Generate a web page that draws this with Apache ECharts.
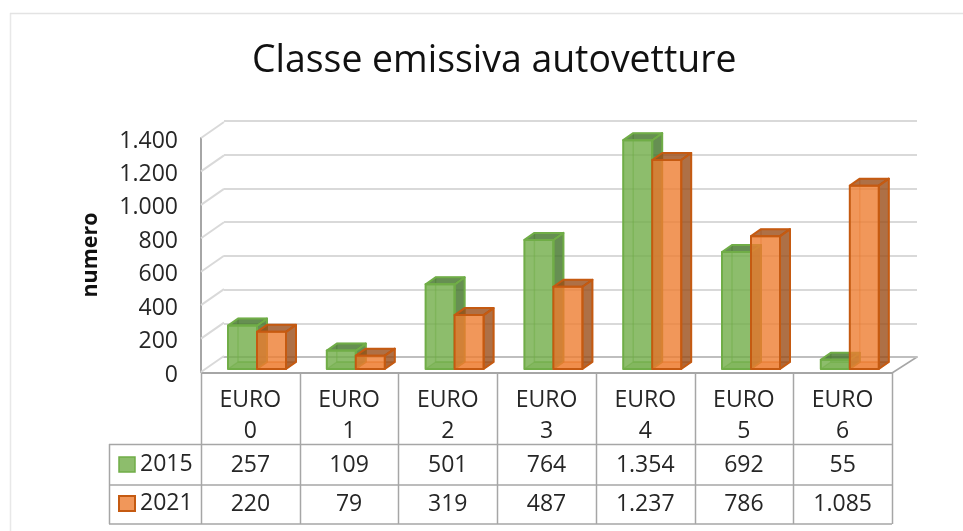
<!DOCTYPE html>
<html>
<head>
<meta charset="utf-8">
<style>
  html, body { margin: 0; padding: 0; background: #fff; }
  #chart { width: 963px; height: 531px; }
</style>
<script src="https://cdn.jsdelivr.net/npm/echarts@6/dist/echarts.min.js"></script>
</head>
<body>
<div id="chart"></div>
<script>
const categories = ['EURO\n0', 'EURO\n1', 'EURO\n2', 'EURO\n3', 'EURO\n4', 'EURO\n5', 'EURO\n6'];
const values2015 = [257, 109, 501, 764, 1354, 692, 55];
const values2021 = [220, 79, 319, 487, 1237, 786, 1085];
const yTicks = [0, 200, 400, 600, 800, 1000, 1200, 1400];

const FONT = '"Open Sans", sans-serif';
const TEXT = '#262626';
const TABLE_LINE = '#a6a6a6';
const GRID_LINE = '#d9d9d9';

// dot as thousands separator, as in the original
const formatNum = (v) => String(v).replace(/\B(?=(\d{3})+$)/g, '.');

const green = {
    front: 'rgba(112,173,71,0.8)', side: 'rgba(64,115,39,0.8)', floor: 'rgba(112,173,71,0.35)',
    edge: '#70ad47', inner: 'rgba(112,173,71,0.5)'
};
const orange = {
    front: 'rgba(237,125,49,0.8)', side: 'rgba(154,76,24,0.8)', floor: 'rgba(237,125,49,0.35)',
    edge: '#c55a11', inner: 'rgba(197,90,17,0.35)'
};

const BAR_W = 29;
const BAR_DX = 10;
const BAR_DY = -7;

// 3D bar: the front rectangle comes from the axes, the rest is a fixed depth offset
const renderBar = (palette, side) => (params, api) => {
    const base = api.coord([api.value(0), 0]);
    const top = api.coord([api.value(0), api.value(1)]);
    const x0 = base[0] + (side < 0 ? -BAR_W : 0);
    const x1 = x0 + BAR_W;
    const y0 = top[1];
    const y1 = base[1];
    const poly = (points, fill, stroke, width) => ({
        type: 'polygon',
        shape: { points: points },
        style: { fill: fill, stroke: stroke, lineWidth: width, lineJoin: 'round' }
    });
    return {
        type: 'group',
        children: [
            // floor and hidden edges show through the glassy front
            poly([[x0, y1], [x1, y1], [x1 + BAR_DX, y1 + BAR_DY], [x0 + BAR_DX, y1 + BAR_DY]], palette.floor, palette.inner, 1.5),
            poly([[x0 + BAR_DX, y0 + BAR_DY], [x1 + BAR_DX, y0 + BAR_DY], [x1 + BAR_DX, y1 + BAR_DY], [x0 + BAR_DX, y1 + BAR_DY]], 'none', palette.inner, 1.5),
            poly([[x1, y0], [x1 + BAR_DX, y0 + BAR_DY], [x1 + BAR_DX, y1 + BAR_DY], [x1, y1]], palette.side, palette.edge, 2),
            poly([[x0, y0], [x0 + BAR_DX, y0 + BAR_DY], [x1 + BAR_DX, y0 + BAR_DY], [x1, y0]], palette.side, palette.edge, 2),
            poly([[x0, y0], [x1, y0], [x1, y1], [x0, y1]], palette.front, palette.edge, 2)
        ]
    };
};

// slanted lines joining the front plane to the back wall
const renderSlant = (params, api) => {
    const p = api.coord([0, api.value(0)]);
    const x = params.coordSys.x;
    return {
        type: 'line',
        shape: { x1: x, y1: p[1], x2: x + 23, y2: p[1] - 16 },
        style: { stroke: GRID_LINE, lineWidth: 2 }
    };
};

const rowAxis = (values, offset) => ({
    type: 'category',
    gridIndex: 0,
    position: 'bottom',
    offset: offset,
    data: values.map(formatNum),
    axisLine: { show: false },
    axisTick: { show: false },
    axisLabel: { interval: 0, margin: 0, fontFamily: FONT, fontSize: 23, color: TEXT }
});

// table rules
const tableLines = [];
const addLine = (x1, y1, x2, y2, color, width) => tableLines.push({
    type: 'line',
    silent: true,
    shape: { x1: x1, y1: y1, x2: x2, y2: y2 },
    style: { stroke: color, lineWidth: width }
});
const tableLeft = 201;
const tableRight = 892;
categories.forEach((c, i) => {
    const x = Math.round(tableLeft + (tableRight - tableLeft) * i / categories.length) + 0.5;
    addLine(x, 373, x, 524, TABLE_LINE, 1.5);
});
addLine(tableRight + 0.5, 373, tableRight + 0.5, 524, TABLE_LINE, 1.5);
addLine(109.5, 444, 109.5, 524, TABLE_LINE, 1.5);
addLine(109, 444.5, tableRight, 444.5, TABLE_LINE, 1.5);
addLine(109, 485, tableRight, 485, TABLE_LINE, 1.5);
addLine(109, 524, tableRight, 524, TABLE_LINE, 1.5);
// front floor edge and floor corner
addLine(201, 373, tableRight, 373, TABLE_LINE, 2);
addLine(tableRight, 373, 917, 357, TABLE_LINE, 1.5);
// outer border of the picture
addLine(10.5, 13, 10.5, 531, '#e8e8e8', 1.5);
addLine(10, 13.5, 963, 13.5, '#e3e3e3', 1.5);

const chart = echarts.init(document.getElementById('chart'));
chart.setOption({
    backgroundColor: '#fff',
    animation: false,
    title: {
        text: 'Classe emissiva autovetture',
        left: 252,
        top: 43,
        padding: 0,
        textStyle: { fontFamily: FONT, fontSize: 37.4, fontWeight: 'normal', color: '#111' }
    },
    legend: {
        left: 118,
        top: 453,
        padding: 0,
        orient: 'vertical',
        itemWidth: 16,
        itemHeight: 15,
        itemGap: 16,
        selectedMode: false,
        textStyle: { fontFamily: FONT, fontSize: 23, color: TEXT },
        data: [
            { name: '2015', icon: 'rect', itemStyle: { color: green.front, borderColor: green.edge, borderWidth: 1.5 } },
            { name: '2021', icon: 'rect', itemStyle: { color: orange.front, borderColor: orange.edge, borderWidth: 2 } }
        ]
    },
    grid: [
        // front plane: axis line and table
        { left: 201, top: 138, width: 691, height: 234 },
        // back wall
        { left: 224, top: 121, width: 693, height: 236 },
        // plane the bars stand on
        { left: 207.6, top: 132.4, width: 691.6, height: 236.6 },
        // tick labels sit a little below the front plane
        { left: 201, top: 141, width: 691, height: 234 }
    ],
    xAxis: [
        {
            type: 'category',
            gridIndex: 0,
            data: categories,
            axisLine: { show: false },
            axisTick: { show: false },
            axisLabel: { interval: 0, margin: 13, lineHeight: 31, fontFamily: FONT, fontSize: 23, color: TEXT }
        },
        {
            type: 'category',
            gridIndex: 1,
            data: categories,
            axisLine: { show: true, lineStyle: { color: '#bfbfbf', width: 2 } },
            axisTick: { show: false },
            axisLabel: { show: false }
        },
        { type: 'category', gridIndex: 2, data: categories, show: false },
        rowAxis(values2015, 82),
        rowAxis(values2021, 121),
        { type: 'category', gridIndex: 3, data: categories, show: false }
    ],
    yAxis: [
        {
            type: 'value',
            gridIndex: 0,
            min: 0,
            max: 1400,
            interval: 200,
            name: 'numero',
            nameLocation: 'middle',
            nameGap: 99,
            nameMoveOverlap: false,
            nameTextStyle: { fontFamily: FONT, fontSize: 21.5, fontWeight: 'bold', color: '#111' },
            axisLine: { show: true, lineStyle: { color: TABLE_LINE, width: 2 } },
            axisTick: { show: false },
            axisLabel: { show: false },
            splitLine: { show: false }
        },
        {
            type: 'value',
            gridIndex: 1,
            min: 0,
            max: 1400,
            interval: 200,
            axisLine: { show: false },
            axisTick: { show: false },
            axisLabel: { show: false },
            splitLine: { show: true, lineStyle: { color: GRID_LINE, width: 2 } }
        },
        { type: 'value', gridIndex: 2, min: 0, max: 1400, show: false, splitLine: { show: false } },
        {
            type: 'value',
            gridIndex: 3,
            min: 0,
            max: 1400,
            interval: 200,
            axisLine: { show: false },
            axisTick: { show: false },
            splitLine: { show: false },
            axisLabel: { margin: 23, fontFamily: FONT, fontSize: 23, color: TEXT, formatter: formatNum }
        }
    ],
    series: [
        {
            type: 'custom',
            xAxisIndex: 0,
            yAxisIndex: 0,
            silent: true,
            renderItem: renderSlant,
            data: yTicks.map((v) => [v]),
            encode: { y: 0 },
            z: 1
        },
        {
            name: '2015',
            type: 'custom',
            xAxisIndex: 2,
            yAxisIndex: 2,
            renderItem: renderBar(green, -1),
            data: values2015.map((v, i) => [i, v]),
            encode: { x: 0, y: 1 },
            z: 3
        },
        {
            name: '2021',
            type: 'custom',
            xAxisIndex: 2,
            yAxisIndex: 2,
            renderItem: renderBar(orange, 1),
            data: values2021.map((v, i) => [i, v]),
            encode: { x: 0, y: 1 },
            z: 4
        }
    ],
    graphic: tableLines
});
</script>
</body>
</html>
